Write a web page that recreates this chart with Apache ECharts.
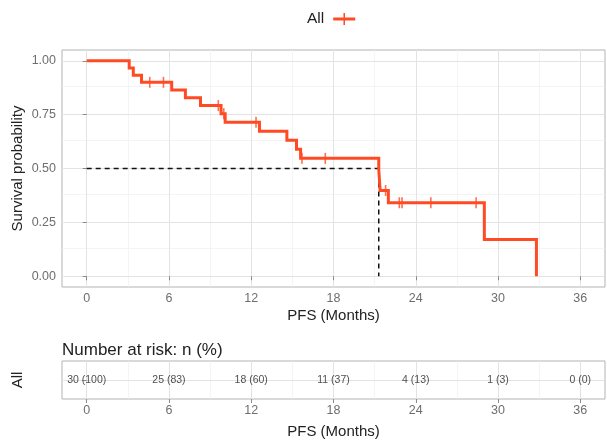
<!DOCTYPE html>
<html>
<head>
<meta charset="utf-8">
<script src="https://cdn.jsdelivr.net/npm/echarts@6/dist/echarts.min.js"></script>
<style>html,body{margin:0;padding:0;background:#fff}#c{width:607px;height:445px}</style>
</head>
<body>
<div id="c"></div>
<script>
// ---- data ----
const stepTimes = [0, 3.1, 3.4, 4.0, 6.2, 7.2, 8.3, 9.8, 10.1, 12.6, 14.6, 15.3, 15.6, 21.3, 21.35, 21.4, 22.0, 29.0, 32.8];
const survival  = [1.0, 0.967, 0.933, 0.900, 0.864, 0.828, 0.792, 0.754, 0.715, 0.673, 0.631, 0.589, 0.547, 0.497, 0.447, 0.398, 0.341, 0.171, 0.0];
const censorTimes = [4.6, 5.6, 9.6, 10.0, 12.35, 15.7, 17.4, 21.8, 22.8, 23.0, 25.1, 28.4];
const medianTime = 21.3;
const medianSurv = 0.5;
const xTicks = [0, 6, 12, 18, 24, 30, 36];
const xMinor = [3, 9, 15, 21, 27, 33];
const yTicks = [0, 0.25, 0.5, 0.75, 1.0];
const yMinor = [0.125, 0.375, 0.625, 0.875];
const riskTimes = [0, 6, 12, 18, 24, 30, 36];
const riskN = [30, 25, 18, 11, 4, 1, 0];
const riskPct = [100, 83, 60, 37, 13, 3, 0];
const groupName = 'All';

// ---- build ----
const COL = '#ff4b24';
const FONT = 'Liberation Sans, Arial, sans-serif';
const kmPts = [];
for (let i = 0; i < stepTimes.length; i++) {
  if (i > 0) kmPts.push([stepTimes[i], survival[i - 1]]);
  kmPts.push([stepTimes[i], survival[i]]);
}
function survAt(t) {
  let s = survival[0];
  for (let i = 0; i < stepTimes.length; i++) if (stepTimes[i] <= t) s = survival[i];
  return s;
}
const censorPts = censorTimes.map(t => [t, survAt(t)]);
const major = { color: '#e3e3e3', width: 1, type: 'solid' };
const minor = { color: '#f1f1f1', width: 0.8, type: 'solid' };
function vLines(vals, st) { return vals.map(v => ({ xAxis: v, lineStyle: st })); }
function hLines(vals, st) { return vals.map(v => ({ yAxis: v, lineStyle: st })); }

const chart = echarts.init(document.getElementById('c'), null, { renderer: 'canvas' });
const xCommon = (gi, nameGap) => ({
  type: 'value', gridIndex: gi, min: -1.8, max: 37.8,
  axisLine: { show: false },
  splitLine: { show: false },
  axisTick: { show: true, length: 4, customValues: xTicks, lineStyle: { color: '#8a8a8a', width: 1 } },
  axisLabel: { customValues: xTicks, margin: 5, fontSize: 12.5, color: '#6e6e6e', fontFamily: FONT },
  name: 'PFS (Months)', nameLocation: 'middle', nameGap: nameGap, nameMoveOverlap: false,
  nameTextStyle: { fontSize: 15, color: '#222', fontFamily: FONT }
});
chart.setOption({
  animation: false,
  textStyle: { fontFamily: FONT },
  title: {
    text: 'Number at risk: n (%)', left: 57, top: 337,
    textStyle: { fontSize: 17, fontWeight: 'normal', color: '#222', fontFamily: FONT }
  },
  legend: {
    top: 6, left: 302, align: 'right', itemWidth: 22, itemHeight: 12, itemGap: 8,
    data: [{ name: groupName, icon: 'path://M0,4.5H22V7.5H0Z M10.25,0H11.75V12H10.25Z' }],
    textStyle: { fontSize: 15.5, color: '#222', fontFamily: FONT, padding: [0, 4, 0, 0] }
  },
  grid: [
    { left: 62, top: 50, width: 543, height: 237, show: true, borderColor: '#b3b3b3', borderWidth: 1, backgroundColor: '#fff', containLabel: false, outerBoundsMode: 'none' },
    { left: 62, top: 361, width: 543, height: 38, show: true, borderColor: '#b3b3b3', borderWidth: 1, backgroundColor: '#fff', containLabel: false, outerBoundsMode: 'none' }
  ],
  xAxis: [xCommon(0, 21), xCommon(1, 25)],
  yAxis: [
    {
      type: 'value', gridIndex: 0, min: -0.05, max: 1.05,
      axisLine: { show: false }, splitLine: { show: false },
      axisTick: { show: true, length: 4, customValues: yTicks, lineStyle: { color: '#8a8a8a' } },
      axisLabel: { customValues: yTicks, margin: 6, fontSize: 12.5, color: '#6e6e6e', formatter: v => v.toFixed(2), fontFamily: FONT },
      name: 'Survival probability', nameLocation: 'middle', nameRotate: 90, nameGap: 37, nameMoveOverlap: false,
      nameTextStyle: { fontSize: 15, color: '#222', fontFamily: FONT }
    },
    {
      type: 'value', gridIndex: 1, min: 0, max: 2,
      axisLine: { show: false }, splitLine: { show: false },
      axisTick: { show: true, length: 4, customValues: [1], lineStyle: { color: '#8a8a8a' } },
      axisLabel: { show: false },
      name: groupName, nameLocation: 'middle', nameRotate: 90, nameGap: 37, nameMoveOverlap: false,
      nameTextStyle: { fontSize: 15, color: '#222', fontFamily: FONT }
    }
  ],
  series: [
    {
      type: 'line', xAxisIndex: 0, yAxisIndex: 0, data: [], z: 0, silent: true,
      markLine: {
        z: 0, silent: true, symbol: ['none', 'none'], label: { show: false }, animation: false,
        data: [].concat(vLines(xMinor, minor), hLines(yMinor, minor), vLines(xTicks, major), hLines(yTicks, major))
      }
    },
    {
      type: 'line', xAxisIndex: 1, yAxisIndex: 1, data: [], z: 0, silent: true,
      markLine: {
        z: 0, silent: true, symbol: ['none', 'none'], label: { show: false }, animation: false,
        data: [].concat(vLines(xMinor, minor), vLines(xTicks, major), hLines([1], major))
      }
    },
    {
      type: 'line', xAxisIndex: 0, yAxisIndex: 0, z: 2, silent: true,
      data: [[0, medianSurv], [medianTime, medianSurv], [medianTime, 0]],
      symbol: 'none', lineStyle: { color: '#111', width: 1.5, type: [5, 4] }
    },
    {
      name: groupName, type: 'line', xAxisIndex: 0, yAxisIndex: 0, z: 3,
      data: kmPts, symbol: 'none', itemStyle: { color: COL },
      lineStyle: { color: COL, width: 3, join: 'miter' }
    },
    {
      name: groupName, type: 'scatter', xAxisIndex: 0, yAxisIndex: 0, z: 4,
      data: censorPts, symbol: 'rect', symbolSize: [1.6, 11], itemStyle: { color: COL }
    },
    {
      type: 'scatter', xAxisIndex: 1, yAxisIndex: 1, z: 4, silent: true,
      data: riskTimes.map((t, i) => [t, 1]),
      symbolSize: 1, itemStyle: { color: 'transparent' },
      label: {
        show: true, position: 'inside', fontSize: 10.5, color: '#222', fontFamily: FONT,
        formatter: p => riskN[p.dataIndex] + ' (' + riskPct[p.dataIndex] + ')'
      }
    }
  ]
});
</script>
</body>
</html>
